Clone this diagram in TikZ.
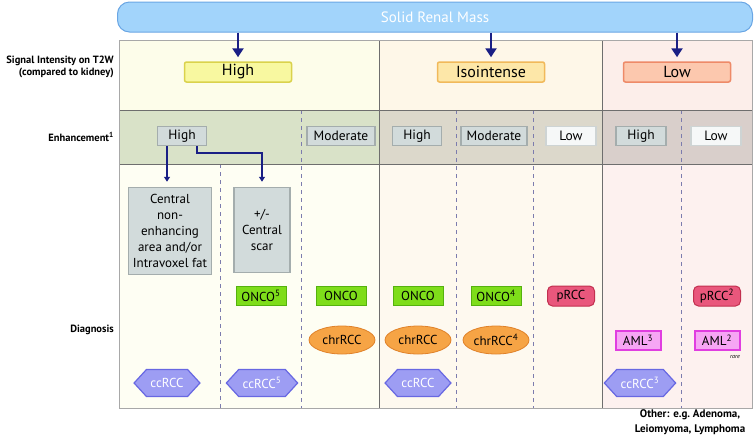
\documentclass[tikz,border=0pt]{standalone}
\usepackage{fontspec}
\setmainfont{PT Sans}
\usetikzlibrary{arrows.meta,shapes.geometric,shapes.symbols}

\definecolor{barfill}{HTML}{A2D4FB}
\definecolor{bardraw}{HTML}{6AA6E4}
\definecolor{navy}{HTML}{1A1F85}
\definecolor{gridline}{HTML}{6E6E6E}
\definecolor{frameline}{HTML}{A8A8A8}
\definecolor{dashline}{HTML}{7C7CAE}
\definecolor{bgAtop}{HTML}{FDFDEA}
\definecolor{bgAmid}{HTML}{D9E2C8}
\definecolor{bgAlow}{HTML}{FEFEF3}
\definecolor{bgBtop}{HTML}{FEF7E8}
\definecolor{bgBmid}{HTML}{DCD8CB}
\definecolor{bgBlow}{HTML}{FEF9EF}
\definecolor{bgCtop}{HTML}{FCEEEA}
\definecolor{bgCmid}{HTML}{D9CFCB}
\definecolor{bgClow}{HTML}{FDF1EF}
\definecolor{hiFill}{HTML}{F8F8A0}
\definecolor{hiDraw}{HTML}{DAD24C}
\definecolor{isoFill}{HTML}{FDE7A8}
\definecolor{isoDraw}{HTML}{F1B95A}
\definecolor{lowFill}{HTML}{FCC8AE}
\definecolor{lowDraw}{HTML}{EE8A68}
\definecolor{grayFill}{HTML}{D2DBDB}
\definecolor{grayDraw}{HTML}{A4ADAD}
\definecolor{paleFill}{HTML}{F6F8F8}
\definecolor{paleDraw}{HTML}{CED4D4}
\definecolor{oncoFill}{HTML}{7EDD1A}
\definecolor{oncoDraw}{HTML}{55B20E}
\definecolor{chrFill}{HTML}{F6A445}
\definecolor{chrDraw}{HTML}{E0822A}
\definecolor{ccFill}{HTML}{9D9DF3}
\definecolor{ccDraw}{HTML}{6868E2}
\definecolor{pFill}{HTML}{E9577C}
\definecolor{pDraw}{HTML}{C2304F}
\definecolor{amlFill}{HTML}{F6A6F4}
\definecolor{amlDraw}{HTML}{E03EE0}

\begin{document}
\begin{tikzpicture}
  [x=1pt,y=-1pt,
   every node/.style={inner sep=0pt,font=\fontsize{13}{15}\selectfont},
   bar/.style={rounded corners=12pt,fill=barfill,draw=bardraw,line width=1pt,
     minimum width=635pt,minimum height=30pt,text=white,font=\fontsize{15}{17}\selectfont},
   sigbox/.style={rounded corners=2pt,line width=1.5pt,minimum width=107pt,
     minimum height=20pt,font=\fontsize{16}{18}\selectfont},
   enhbox/.style={fill=grayFill,draw=grayDraw,line width=1.2pt,minimum height=19pt,
     font=\fontsize{13.5}{15}\selectfont},
   bigbox/.style={fill=grayFill,draw=grayDraw,line width=1.5pt,align=center,
     font=\fontsize{13}{16}\selectfont},
   onco/.style={fill=oncoFill,draw=oncoDraw,line width=1pt,minimum width=50pt,minimum height=19pt},
   chr/.style={ellipse,fill=chrFill,draw=chrDraw,line width=.8pt,minimum width=66pt,minimum height=28pt},
   ccrcc/.style={signal,signal to=west and east,signal pointer angle=95,fill=ccFill,
     draw=ccDraw,line width=1.2pt,text=white,inner xsep=4pt,minimum height=27pt},
   prcc/.style={rounded corners=5pt,fill=pFill,draw=pDraw,line width=1pt,
     minimum width=47pt,minimum height=20pt},
   aml/.style={fill=amlFill,draw=amlDraw,line width=2pt,minimum width=45pt,minimum height=19pt},
   rowlabel/.style={anchor=east,align=right,font=\bfseries\fontsize{10.5}{11.5}\selectfont},
   bigarrow/.style={navy,line width=2.6pt,-{Triangle[width=11pt,length=9pt]}},
   thinarrow/.style={navy,line width=1.4pt,-{Triangle[width=6pt,length=5pt]}},
   sub/.style={dashline,line width=.8pt,dash pattern=on 4pt off 4pt}]
  \useasboundingbox (0,0) rectangle (754,437);

  % backgrounds
  \fill[bgAtop] (119,40) rectangle (379,110);
  \fill[bgAmid] (119,110) rectangle (379,164);
  \fill[bgAlow] (119,164) rectangle (379,408);
  \fill[bgBtop] (379,40) rectangle (602,110);
  \fill[bgBmid] (379,110) rectangle (602,164);
  \fill[bgBlow] (379,164) rectangle (602,408);
  \fill[bgCtop] (602,40) rectangle (752,110);
  \fill[bgCmid] (602,110) rectangle (752,164);
  \fill[bgClow] (602,164) rectangle (752,408);

  % grid
  \draw[sub] (220,164) -- (220,408);
  \foreach \x in {301,456,533,681}
    \draw[sub] (\x,110) -- (\x,408);
  \draw[gridline,line width=.8pt] (119,110) -- (752,110) (119,164) -- (752,164);
  \draw[gridline,line width=.8pt] (379,40) -- (379,408) (602,40) -- (602,408);
  \draw[frameline,line width=1pt] (119,40) rectangle (752,408);

  % top
  \node[bar] (mass) at (435,17) {Solid Renal Mass};

  \node[rowlabel] (lsig) at (114,67) {Signal Intensity on T2W\\(compared to kidney)};
  \node[rowlabel] (lenh) at (114,137) {Enhancement\textsuperscript{1}};
  \node[rowlabel] (ldia) at (114,330) {Diagnosis};

  \node[sigbox,fill=hiFill,draw=hiDraw] (sHigh) at (238,72) {High};
  \node[sigbox,fill=isoFill,draw=isoDraw] (sIso) at (491,72) {Isointense};
  \node[sigbox,fill=lowFill,draw=lowDraw] (sLow) at (677,72) {Low};

  \foreach \to in {sHigh,sIso,sLow}
    \draw[bigarrow] (mass.south -| \to) -- ([yshift=4pt]\to.north);

  % enhancement
  \node[enhbox,minimum width=49pt] (eHighA) at (182,136) {High};
  \node[enhbox,minimum width=68pt] (eModA) at (341,136) {Moderate};
  \node[enhbox,minimum width=49pt] (eHighB) at (417,136) {High};
  \node[enhbox,minimum width=66pt] (eModB) at (494,136) {Moderate};
  \node[enhbox,fill=paleFill,draw=paleDraw,minimum width=50pt] (eLowB) at (571,136) {Low};
  \node[enhbox,minimum width=50pt] (eHighC) at (641,136) {High};
  \node[enhbox,fill=paleFill,draw=paleDraw,minimum width=50pt] (eLowC) at (716,136) {Low};

  \node[bigbox,minimum width=83pt,minimum height=87pt] (fatBox) at (170,231)
    {Central\\non-\\enhancing\\area and/or\\Intravoxel fat};
  \node[bigbox,minimum width=56pt,minimum height=85pt] (scarBox) at (262,230)
    {+/-\\Central\\scar};

  \draw[thinarrow] (eHighA.south -| 167,0) -- ([yshift=5pt]fatBox.north -| 167,0);
  \draw[thinarrow] ([xshift=15pt]eHighA.south) -- ++(0,7) -| ([yshift=5pt]scarBox.north);

  % diagnosis
  \node[onco] (onA) at (261,296) {ONCO\textsuperscript{5}};
  \node[onco] (onB) at (341,296) {ONCO};
  \node[onco] (onC) at (418,296) {ONCO};
  \node[onco] (onD) at (496,296) {ONCO\textsuperscript{4}};
  \node[prcc] (prA) at (571,296) {pRCC};
  \node[prcc] (prB) at (717,296) {pRCC\textsuperscript{2}};

  \node[chr] (chA) at (342,340) {chrRCC};
  \node[chr] (chB) at (418,340) {chrRCC};
  \node[chr] (chC) at (496,340) {chrRCC\textsuperscript{4}};
  \node[aml] (amA) at (638,340) {AML\textsuperscript{3}};
  \node[aml] (amB) at (717,340) {AML\textsuperscript{2}};
  \node[font=\itshape\fontsize{6}{7}\selectfont] (rare) at (735,357) {rare};

  \node[ccrcc] (ccA) at (167,383) {ccRCC};
  \node[ccrcc] (ccB) at (262,383) {ccRCC\textsuperscript{5}};
  \node[ccrcc] (ccC) at (418,383) {ccRCC};
  \node[ccrcc] (ccD) at (640,383) {ccRCC\textsuperscript{3}};

  \node[align=center,font=\bfseries\fontsize{11}{15}\selectfont] (other) at (690,422)
    {Other: e.g.\ Adenoma,\\Leiomyoma, Lymphoma};
\end{tikzpicture}
\end{document}
